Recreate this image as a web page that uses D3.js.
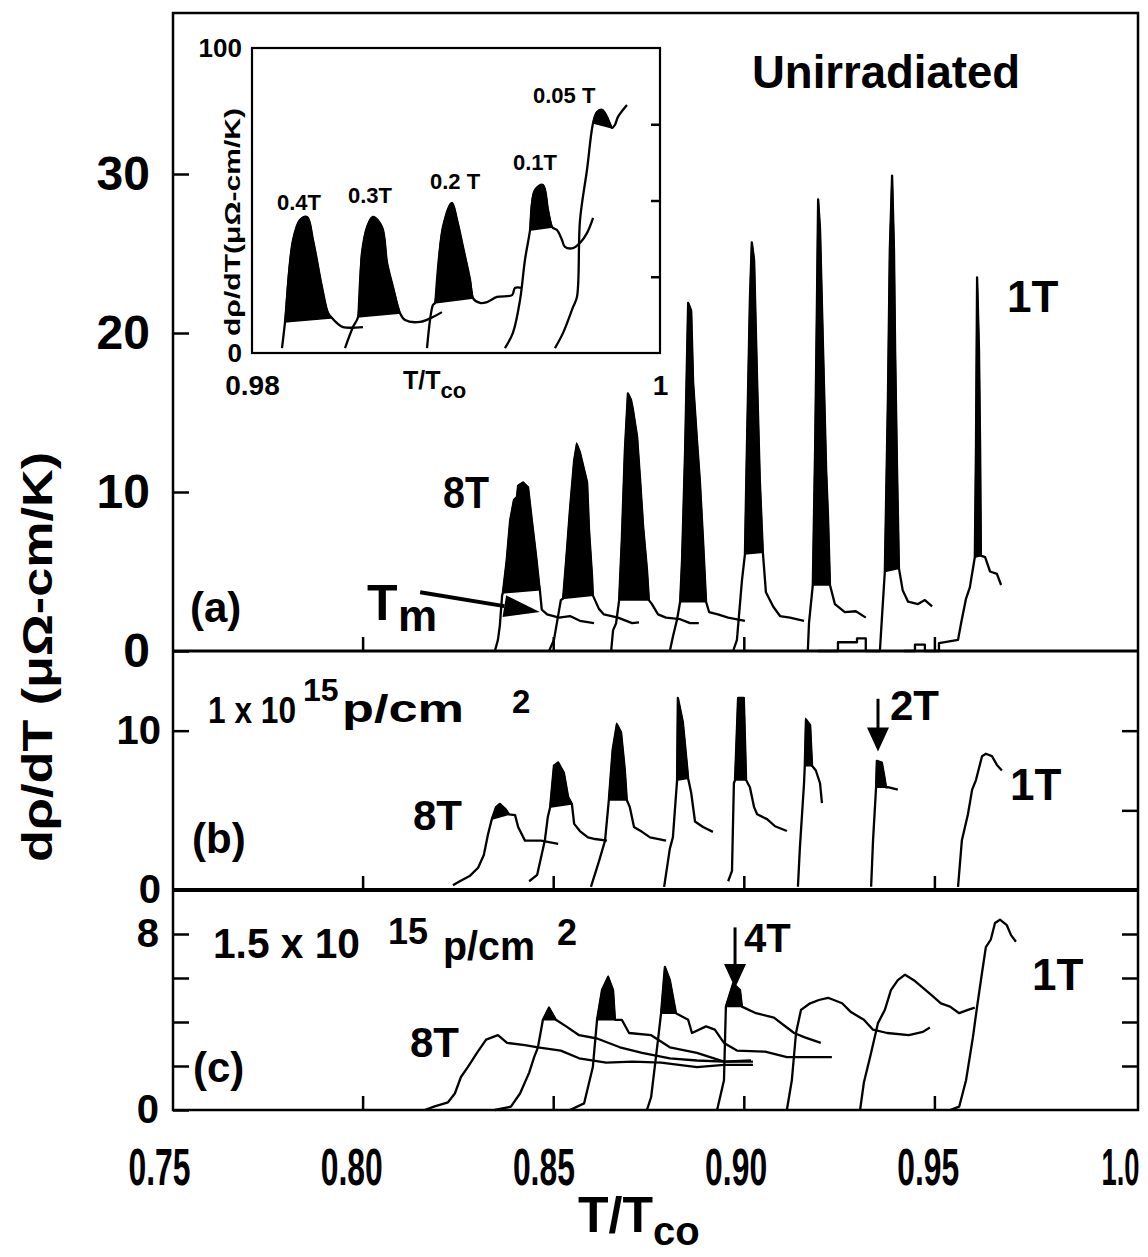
<!DOCTYPE html>
<html>
<head>
<meta charset="utf-8">
<script src="https://cdn.jsdelivr.net/npm/d3@7"></script>
<style>
  body { margin: 0; background: #fff; }
  svg text { font-family: "Liberation Sans", Arial, sans-serif; font-weight: bold; fill: #000; }
</style>
</head>
<body>
<svg id="chart" width="1148" height="1257"></svg>
<script>
// ---- data : [T/Tco, drho/dT] ----
// panel (a) unirradiated, fields 8T .. 1T
const a8T = [[0.8347,0],[0.8355,0.7],[0.8360,1.6],[0.8366,3.5],[0.8368,3.65],[0.8378,5.7],[0.8387,8.2],[0.8397,9.5],[0.8405,9.7],[0.8408,10.4],[0.8421,10.6],[0.8434,10.3],[0.8444,8.2],[0.8455,6.0],[0.8463,4.2],[0.8465,3.85],[0.8470,2.6],[0.8484,2.3],[0.8515,2.1],[0.8544,2.2],[0.8570,1.9],[0.8607,1.75]];
const a7T = [[0.8489,0],[0.8502,0.7],[0.8520,3.2],[0.8526,3.3],[0.8534,5.7],[0.8544,8.9],[0.8555,12.0],[0.8562,13.0],[0.8570,12.5],[0.8581,11.4],[0.8589,10.6],[0.8594,7.6],[0.8602,4.65],[0.8604,3.5],[0.8620,2.65],[0.8633,2.3],[0.8670,2.1],[0.8707,1.75],[0.8725,1.8]];
const a6T = [[0.8652,0],[0.8657,1.3],[0.8665,1.75],[0.8673,3.2],[0.8680,7.0],[0.8688,12.6],[0.8696,16.2],[0.8704,15.8],[0.8709,15.2],[0.8720,13.5],[0.8728,10.75],[0.8736,7.8],[0.8746,5.1],[0.8751,3.2],[0.8759,2.95],[0.8775,2.3],[0.8796,2.1],[0.8833,2.0],[0.8859,1.75],[0.8882,1.75]];
const a5T = [[0.8806,0],[0.8814,0.9],[0.8825,2.0],[0.8833,3.1],[0.8838,5.7],[0.8846,12.6],[0.8854,21.9],[0.8862,21.4],[0.8867,16.9],[0.8877,13.3],[0.8885,10.6],[0.8893,7.0],[0.8901,3.1],[0.8909,2.45],[0.8932,2.3],[0.8959,2.1],[0.9003,1.9]];
const a4T = [[0.8972,0],[0.8982,0.7],[0.8995,4.4],[0.9003,6.1],[0.9008,12.6],[0.9016,22.1],[0.9021,25.7],[0.9027,24.6],[0.9035,16.9],[0.9042,10.75],[0.9050,6.2],[0.9058,3.7],[0.9077,2.8],[0.9095,2.2],[0.9121,2.1],[0.9158,1.9]];
const a3T = [[0.9168,0],[0.9171,1.75],[0.9181,4.15],[0.9187,12.6],[0.9192,22.1],[0.9195,28.4],[0.9200,26.5],[0.9208,18.9],[0.9216,11.4],[0.9221,8.4],[0.9226,4.15],[0.9239,2.95],[0.9265,2.45],[0.9294,2.5],[0.9320,2.1]];
const a2T = [[0.9195,0],[0.9247,0],[0.9247,0.55],[0.9297,0.55],[0.9297,0.8],[0.9320,0.8],[0.9320,0],[0.9357,0],[0.9362,1.95],[0.9370,5.0],[0.9378,15.8],[0.9383,25.2],[0.9389,29.9],[0.9394,25.2],[0.9397,18.9],[0.9402,11.4],[0.9407,5.2],[0.9417,3.8],[0.9431,3.1],[0.9457,2.95],[0.9475,3.2],[0.9494,2.8]];
const a1T = [[0.9420,0],[0.9449,0],[0.9449,0.4],[0.9475,0.4],[0.9475,0],[0.9512,0],[0.9512,0.5],[0.9562,0.7],[0.9570,1.75],[0.9583,3.3],[0.9593,4.0],[0.9606,5.9],[0.9609,12.6],[0.9612,23.5],[0.9617,18.9],[0.9620,12.6],[0.9622,6.0],[0.9633,5.9],[0.9646,5.0],[0.9664,4.85],[0.9675,4.15]];
const aFill = [[4,15],[3,13],[3,13],[3,12],[3,10],[2,10],[9,16],[11,16]];

// panel (b) 1e15 p/cm2
const b8T = [[0.8237,0.3],[0.8255,0.55],[0.8282,0.9],[0.8303,1.4],[0.8318,2.2],[0.8329,3.5],[0.8339,4.45],[0.8350,5.2],[0.8360,5.4],[0.8374,5.1],[0.8384,4.75],[0.8400,4.7],[0.8408,3.95],[0.8426,3.1],[0.8468,3.1],[0.8513,2.9]];
const b7T = [[0.8437,0.55],[0.8458,0.95],[0.8478,3.1],[0.8486,4.6],[0.8492,5.2],[0.8502,7.8],[0.8513,8.0],[0.8528,7.35],[0.8539,5.85],[0.8549,5.4],[0.8555,4.15],[0.8570,3.7],[0.8591,3.3],[0.8610,3.2],[0.8641,3.1]];
const b6T = [[0.8599,0.2],[0.8620,1.8],[0.8636,3.1],[0.8646,5.65],[0.8656,8.8],[0.8667,10.4],[0.8678,9.9],[0.8688,7.5],[0.8693,5.65],[0.8701,5.2],[0.8712,3.95],[0.8733,3.65],[0.8754,3.3],[0.8796,3.1]];
const b5T = [[0.8791,0.2],[0.8806,2.6],[0.8814,3.3],[0.8825,6.9],[0.8827,12.05],[0.8840,10.55],[0.8851,7.8],[0.8854,7.0],[0.8862,6.1],[0.8872,4.3],[0.8893,3.95],[0.8919,3.65]];
const b4T = [[0.8959,0.55],[0.8969,1.2],[0.8974,6.7],[0.8977,6.9],[0.8985,12.05],[0.9000,12.05],[0.9003,9.5],[0.9006,6.9],[0.9016,6.45],[0.9027,5.2],[0.9035,4.75],[0.9061,4.45],[0.9082,4.0],[0.9113,3.7]];
const b3T = [[0.9142,0.2],[0.9147,2.6],[0.9158,6.7],[0.9160,7.8],[0.9163,10.7],[0.9174,10.35],[0.9179,7.8],[0.9189,7.5],[0.9200,6.7],[0.9205,5.45]];
const b2T = [[0.9334,0.2],[0.9339,3.1],[0.9347,6.45],[0.9349,8.1],[0.9362,8.0],[0.9368,7.2],[0.9373,6.45],[0.9378,6.45],[0.9404,6.3]];
const b1T = [[0.9562,0.2],[0.9572,3.1],[0.9588,4.75],[0.9599,6.3],[0.9609,6.9],[0.9625,8.4],[0.9635,8.55],[0.9651,8.4],[0.9664,7.85],[0.9677,7.5]];
const bFill = [[6,10],[4,9],[3,8],[3,7],[3,7],[3,6],[2,6],null];

// panel (c) 1.5e15 p/cm2
const c8T = [[0.8163,0],[0.8187,0.15],[0.8224,0.35],[0.8242,0.75],[0.8258,1.5],[0.8276,1.95],[0.8300,2.6],[0.8324,3.2],[0.8355,3.4],[0.8379,3.05],[0.8426,2.95],[0.8460,2.85],[0.8520,2.7],[0.8568,2.35],[0.8639,2.15],[0.8709,2.2],[0.8783,2.15],[0.8877,1.95],[0.8948,2.05],[0.9024,2.05]];
const c7T = [[0.8347,0],[0.8389,0.15],[0.8413,0.75],[0.8437,1.7],[0.8450,2.4],[0.8460,2.85],[0.8473,4.1],[0.8489,4.65],[0.8507,4.1],[0.8534,3.8],[0.8568,3.4],[0.8615,3.25],[0.8675,2.85],[0.8733,2.6],[0.8806,2.35],[0.8877,2.25],[0.8948,2.2],[0.9024,2.2]];
const c6T = [[0.8544,0],[0.8581,0.3],[0.8604,1.95],[0.8615,4.1],[0.8628,5.45],[0.8644,6.05],[0.8657,5.45],[0.8662,4.1],[0.8680,4.1],[0.8699,3.5],[0.8757,3.4],[0.8806,2.85],[0.8877,2.6],[0.8948,2.2],[0.9019,2.25]];
const c5T = [[0.8746,0],[0.8757,0.6],[0.8775,3.2],[0.8783,4.4],[0.8793,6.5],[0.8806,5.9],[0.8822,4.4],[0.8854,4.1],[0.8864,3.5],[0.8901,3.8],[0.8924,3.65],[0.8948,3.05],[0.8982,2.7],[0.9056,2.65],[0.9113,2.4],[0.9184,2.4],[0.9231,2.4]];
const c4T = [[0.8930,0],[0.8948,1.35],[0.8953,4.7],[0.8972,5.75],[0.8990,5.45],[0.8995,4.7],[0.9032,4.4],[0.9079,4.2],[0.9113,3.75],[0.9132,3.5],[0.9160,3.3],[0.9202,3.05]];
const c3T = [[0.9113,0],[0.9126,1.35],[0.9137,3.5],[0.9150,4.55],[0.9174,4.85],[0.9197,5.0],[0.9221,5.1],[0.9258,4.85],[0.9281,4.45],[0.9315,4.1],[0.9339,3.65],[0.9376,3.5],[0.9433,3.4],[0.9470,3.55],[0.9488,3.75]];
const c2T = [[0.9305,0],[0.9315,1.25],[0.9334,2.6],[0.9352,3.95],[0.9370,4.55],[0.9386,5.45],[0.9404,5.9],[0.9423,6.15],[0.9446,5.9],[0.9470,5.55],[0.9494,5.2],[0.9517,4.85],[0.9541,4.7],[0.9565,4.4],[0.9588,4.55],[0.9606,4.65]];
const c1T = [[0.9541,0],[0.9565,0.15],[0.9583,1.35],[0.9601,3.3],[0.9612,4.7],[0.9625,6.25],[0.9635,7.4],[0.9648,7.75],[0.9659,8.5],[0.9672,8.65],[0.9690,8.4],[0.9701,7.95],[0.9714,7.65]];
const cFill = [null,[6,8],[3,7],[3,6],[2,5],null,null,null];

// inset, low fields
const i04 = [[0.98147,1.6],[0.98162,10.2],[0.98201,37.0],[0.98235,43.6],[0.98270,44.6],[0.98299,37.0],[0.98343,21.6],[0.98373,13.1],[0.98392,11.5],[0.98417,9.8],[0.98446,8.5],[0.98544,8.5]];
const i03 = [[0.98456,1.6],[0.98495,8.5],[0.98520,11.8],[0.98539,32.8],[0.98564,41.3],[0.98593,44.6],[0.98637,41.3],[0.98662,29.5],[0.98691,21.6],[0.98725,13.1],[0.98750,10.8],[0.98824,10.2],[0.98887,11.8],[0.98931,13.4]];
const i02 = [[0.98858,1.6],[0.98887,15.7],[0.98897,16.4],[0.98936,41.3],[0.98980,49.2],[0.99005,43.6],[0.99034,34.8],[0.99069,23.9],[0.99083,18.0],[0.99118,16.4],[0.99152,16.7],[0.99201,18.4],[0.99275,19.0],[0.99289,21.3],[0.99324,21.3]];
const i01 = [[0.99240,1.6],[0.99279,6.6],[0.99314,17.4],[0.99338,30.5],[0.99363,40.3],[0.99387,53.4],[0.99426,55.1],[0.99451,46.9],[0.99471,41.3],[0.99495,40.3],[0.99520,37.0],[0.99534,34.8],[0.99574,34.4],[0.99608,36.1],[0.99642,39.3],[0.99672,44.3]];
const i005 = [[0.99485,1.6],[0.99525,6.6],[0.99574,15.1],[0.99593,18.4],[0.99608,43.6],[0.99642,60.0],[0.99672,75.4],[0.99691,79.0],[0.99716,79.7],[0.99740,77.4],[0.99765,73.8],[0.99779,74.8],[0.99794,77.4],[0.99838,81.3]];
const iFill = [[1,8],[2,9],[2,8],[4,8],[6,10]];
const insetLabels = ["0.4T", "0.3T", "0.2 T", "0.1T", "0.05 T"];

// ticks
const xTicks = [0.75, 0.80, 0.85, 0.90, 0.95, 1.0];
const aTicks = [0, 10, 20, 30];
const bTicks = [0, 10];
const cTicks = [0, 2, 4, 6, 8];
const insetTicks = [0, 25, 50, 75, 100];

// arrows
const tmArrow = [[0.8151, 3.7], [0.8465, 2.45]];
const arrow2T = [0.9352, 12.0, 8.7];
const arrow4T = [0.8977, 8.3, 5.55];

// ---- layout ----
const svg = d3.select("#chart");
const L = 173, R = 1138, TOP = 13;

const x = d3.scaleLinear().domain([0.75, 1.0]).range([172, 1125]);
const xLab = d3.scaleLinear().domain([0.75, 1.0]).range([159, 1120]);
const ya = d3.scaleLinear().domain([0, 40]).range([651, 15]);
const yb = d3.scaleLinear().domain([0, 15]).range([890, 651]);
const yc = d3.scaleLinear().domain([0, 10]).range([1110, 890]);
const ix = d3.scaleLinear().domain([0.98, 1.0]).range([252, 660]);
const iy = d3.scaleLinear().domain([0, 100]).range([353, 48]);

function drawCurves(g, curves, fills, xs, ys, curveType) {
    const line = d3.line().x(d => xs(d[0])).y(d => ys(d[1])).curve(curveType);
    curves.forEach((pts, i) => {
        const f = fills[i];
        if (f) {
            g.append("path")
                .attr("d", line(pts.slice(f[0], f[1] + 1)) + "Z")
                .attr("fill", "#000")
                .attr("stroke", "#000")
                .attr("stroke-width", 1.5);
        }
        g.append("path")
            .attr("d", line(pts))
            .attr("fill", "none")
            .attr("stroke", "#000")
            .attr("stroke-width", 2.3)
            .attr("stroke-linejoin", "round");
    });
}

function txt(str, px, py, size, opts) {
    opts = opts || {};
    const t = svg.append("text")
        .attr("x", px).attr("y", py)
        .attr("font-size", size)
        .attr("text-anchor", opts.anchor || "start")
        .text(str);
    if (opts.len) t.attr("textLength", opts.len).attr("lengthAdjust", "spacingAndGlyphs");
    if (opts.rotate) t.attr("transform", "rotate(-90," + px + "," + py + ")");
    return t;
}

function arrowDown(xs, ys, a) {
    const px = xs(a[0]), y0 = ys(a[1]), tip = ys(a[2]);
    svg.append("line").attr("x1", px).attr("x2", px).attr("y1", y0).attr("y2", tip - 20)
        .attr("stroke", "#000").attr("stroke-width", 3);
    svg.append("path")
        .attr("d", `M${px - 11},${tip - 24} L${px + 11},${tip - 24} L${px},${tip} Z`)
        .attr("fill", "#000");
}

// ---- curves ----
drawCurves(svg.append("g"), [a8T, a7T, a6T, a5T, a4T, a3T, a2T, a1T], aFill, x, ya, d3.curveLinear);
drawCurves(svg.append("g"), [b8T, b7T, b6T, b5T, b4T, b3T, b2T, b1T], bFill, x, yb, d3.curveLinear);
drawCurves(svg.append("g"), [c8T, c7T, c6T, c5T, c4T, c3T, c2T, c1T], cFill, x, yc, d3.curveLinear);

// ---- frames ----
svg.append("rect").attr("x", L).attr("y", TOP).attr("width", R - L).attr("height", 1110 - TOP)
    .attr("fill", "none").attr("stroke", "#000").attr("stroke-width", 2.5);
svg.append("line").attr("x1", L).attr("x2", R).attr("y1", 651).attr("y2", 651)
    .attr("stroke", "#000").attr("stroke-width", 3);
svg.append("line").attr("x1", L).attr("x2", R).attr("y1", 890).attr("y2", 890)
    .attr("stroke", "#000").attr("stroke-width", 4);

// ---- axes ----
function styleAxis(g, size) {
    g.select(".domain").remove();
    g.selectAll(".tick line").attr("stroke", "#000").attr("stroke-width", 2.5);
    g.selectAll("text").attr("font-size", size).attr("font-family", "Liberation Sans, Arial, sans-serif");
}

svg.append("g").attr("transform", `translate(${L},0)`)
    .call(d3.axisLeft(ya).tickValues(aTicks).tickSizeInner(-16).tickSizeOuter(0).tickPadding(23))
    .call(g => styleAxis(g, 48));
svg.append("g").attr("transform", `translate(${L},0)`)
    .call(d3.axisLeft(yb).tickValues(bTicks).tickSizeInner(-16).tickSizeOuter(0).tickPadding(12))
    .call(g => styleAxis(g, 40));
svg.append("g").attr("transform", `translate(${L},0)`)
    .call(d3.axisLeft(yc).tickValues(cTicks).tickSizeInner(-16).tickSizeOuter(0).tickPadding(14)
        .tickFormat(d => (d === 0 || d === 8) ? d : ""))
    .call(g => styleAxis(g, 40));
svg.append("g").attr("transform", `translate(${R},0)`)
    .call(d3.axisRight(yb).tickValues([5, 10]).tickSizeInner(-16).tickSizeOuter(0).tickFormat(""))
    .call(g => styleAxis(g, 10));
svg.append("g").attr("transform", `translate(${R},0)`)
    .call(d3.axisRight(yc).tickValues(cTicks.slice(1)).tickSizeInner(-16).tickSizeOuter(0).tickFormat(""))
    .call(g => styleAxis(g, 10));

[651, 890, 1110].forEach(b => {
    svg.append("g").attr("transform", `translate(0,${b})`)
        .call(d3.axisBottom(x).tickValues(xTicks.slice(1, 5)).tickSizeInner(-14).tickSizeOuter(0).tickFormat(""))
        .call(g => styleAxis(g, 10));
});

svg.append("g").attr("transform", "translate(0,1110)")
    .call(d3.axisBottom(xLab).tickValues(xTicks).tickSize(0).tickPadding(38)
        .tickFormat(d => d === 1 ? "1.0" : d3.format(".2f")(d)))
    .call(g => styleAxis(g, 52))
    .call(g => g.selectAll("text").attr("textLength", d => d === 1 ? 38 : 62).attr("lengthAdjust", "spacingAndGlyphs"));

// axis titles
const xt = txt("T/T", 578, 1232, 50);
xt.append("tspan").attr("font-size", 40).attr("dy", 13).text("co");
txt("dρ/dT (μΩ-cm/K)", 52, 657, 42, { anchor: "middle", rotate: true, len: 410 });

// ---- inset ----
const inset = svg.append("g");
inset.append("rect").attr("x", 252).attr("y", 48).attr("width", 408).attr("height", 305)
    .attr("fill", "#fff").attr("stroke", "#000").attr("stroke-width", 2.2);
drawCurves(inset.append("g"), [i04, i03, i02, i01, i005], iFill, ix, iy, d3.curveCatmullRom.alpha(0.5));
inset.append("g").attr("transform", "translate(252,0)")
    .call(d3.axisLeft(iy).tickValues([0, 100]).tickSize(0).tickPadding(10))
    .call(g => styleAxis(g, 26));
inset.append("g").attr("transform", "translate(660,0)")
    .call(d3.axisRight(iy).tickValues(insetTicks.slice(1, 4)).tickSizeInner(-9).tickSizeOuter(0).tickFormat(""))
    .call(g => styleAxis(g, 10));
inset.append("g").attr("transform", "translate(0,353)")
    .call(d3.axisBottom(ix).tickValues([0.98, 1.0]).tickSize(0).tickPadding(22)
        .tickFormat(d => d === 1 ? "1" : "0.98"))
    .call(g => styleAxis(g, 28));
const ixt = txt("T/T", 403, 389, 25);
ixt.append("tspan").attr("font-size", 22).attr("dy", 9).text("co");
txt("dρ/dT(μΩ-cm/K)", 240, 222, 22, { anchor: "middle", rotate: true, len: 228 });

const insetLabelPos = [[277, 210], [348, 203], [430, 189], [513, 170], [533, 103]];
insetLabels.forEach((s, i) => txt(s, insetLabelPos[i][0], insetLabelPos[i][1], 22));

// ---- annotations ----
txt("Unirradiated", 752, 88, 46, { len: 268 });
txt("1T", 1007, 312, 44);
txt("8T", 443, 508, 44, { len: 46 });
txt("(a)", 190, 622, 42);
txt("T", 367, 620, 50);
txt("m", 398, 631, 44);

// Tm arrow
{
    const p0 = [x(tmArrow[0][0]), ya(tmArrow[0][1])], p1 = [x(tmArrow[1][0]), ya(tmArrow[1][1])];
    const ang = Math.atan2(p1[1] - p0[1], p1[0] - p0[0]);
    const hl = 36, hw = 11;
    const bx = p1[0] - hl * Math.cos(ang), by = p1[1] - hl * Math.sin(ang);
    svg.append("line").attr("x1", p0[0]).attr("y1", p0[1]).attr("x2", bx).attr("y2", by)
        .attr("stroke", "#000").attr("stroke-width", 4);
    svg.append("path")
        .attr("d", `M${bx - hw * Math.sin(ang)},${by + hw * Math.cos(ang)} L${bx + hw * Math.sin(ang)},${by - hw * Math.cos(ang)} L${p1[0]},${p1[1]} Z`)
        .attr("fill", "#000");
}

// panel b texts
txt("1 x 10", 208, 723, 36, { len: 88 });
txt("15", 303, 701, 32);
txt("p/cm", 342, 722, 38, { len: 122 });
txt("2", 512, 713, 33);
txt("8T", 413, 830, 42);
txt("(b)", 192, 853, 42);
txt("2T", 890, 720, 42);
txt("1T", 1010, 800, 44);
arrowDown(x, yb, arrow2T);

// panel c texts
txt("1.5 x 10", 213, 958, 42, { len: 147 });
txt("15", 388, 944, 36);
txt("p/cm", 443, 960, 40, { len: 92 });
txt("2", 557, 945, 36);
txt("8T", 410, 1057, 42);
txt("(c)", 193, 1082, 42);
txt("4T", 744, 952, 40);
txt("1T", 1032, 990, 44);
arrowDown(x, yc, arrow4T);
</script>
</body>
</html>
